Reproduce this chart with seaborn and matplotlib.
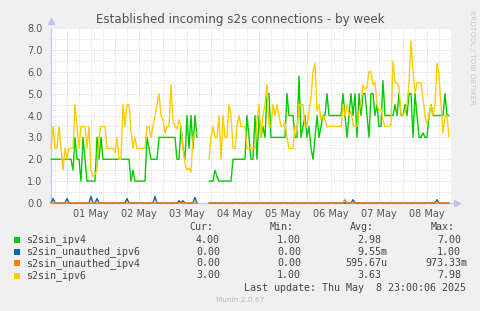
import numpy as np
import pandas as pd
import matplotlib
matplotlib.use("Agg")
import matplotlib.pyplot as plt
from matplotlib.patches import Rectangle
from matplotlib.ticker import FormatStrFormatter, MultipleLocator
import seaborn as sns

nan = np.nan
# hourly samples starting 30 Apr 16:00 (200 hours)
start_time = "2025-04-30 16:00"
n_hours = 200

s2sin_ipv4 = [
    2, 2, 2, 2, 2, 2, 2, 2, 2, 2, 2, 1.5, 3, 2, 2, 1, 3, 2, 1, 1,
    1, 1, 1, 3, 2, 3, 2, 2, 2, 2, 2, 2, 2, 2, 2, 2, 2, 2, 2, 2,
    1, 1.5, 1, 1, 1, 1, 1, 1, 3, 2.5, 2, 2, 2, 2, 3, 3, 3, 3, 3, 3,
    3, 3, 3, 2, 2, 3.5, 2.5, 2, 4, 2.5, 4, 2.5, 4, 3, nan, nan, nan, nan, nan, 1,
    1, 1, 1.5, 1.2, 1, 1, 1, 1, 1, 1, 1, 2, 2, 2, 2, 2, 2, 2, 4, 3,
    2, 2, 4, 2, 4, 3, 3.5, 3, 5, 5, 3, 3, 3, 3, 3, 3, 3, 3, 5, 4,
    4, 4, 3, 3, 5.8, 3, 3.5, 4, 3, 3.5, 2.5, 2, 3, 4, 3, 3.5, 4, 4, 5, 4,
    4, 4, 4, 4, 4, 4, 5, 4, 3, 4, 5, 4, 5, 3, 5, 4, 5, 5, 4, 3,
    5, 5, 4, 4.5, 3.5, 3.5, 5.6, 4, 4, 4, 4, 4, 4.5, 4, 5, 4, 4, 4.5, 4, 5,
    5, 3, 5, 4, 3, 3, 3.2, 3, 3, 4, 4.5, 4, 4, 4, 4, 4, 4, 5, 4, 4,
]

s2sin_unauthed_ipv6 = [
    0, 0.2, 0, 0, 0, 0, 0, 0, 0.2, 0, 0, 0, 0, 0, 0, 0, 0, 0, 0, 0,
    0.3, 0, 0, 0.2, 0, 0, 0, 0, 0, 0, 0, 0, 0, 0, 0, 0, 0, 0, 0.2, 0,
    0, 0, 0, 0, 0, 0, 0, 0, 0, 0, 0, 0, 0.3, 0, 0, 0, 0, 0, 0, 0,
    0, 0, 0, 0, 0.1, 0, 0.1, 0, 0, 0, 0, 0, 0.25, 0, nan, nan, nan, nan, nan, 0,
    0, 0, 0, 0, 0, 0, 0, 0, 0, 0, 0, 0, 0, 0, 0, 0, 0, 0, 0, 0,
    0, 0, 0, 0, 0, 0, 0, 0, 0, 0, 0, 0, 0, 0, 0, 0, 0, 0, 0, 0,
    0, 0, 0, 0, 0, 0, 0, 0, 0, 0, 0, 0, 0, 0, 0, 0, 0, 0, 0, 0,
    0, 0, 0, 0, 0, 0, 0, 0, 0, 0, 0, 0.15, 0, 0, 0, 0, 0, 0, 0, 0,
    0, 0, 0, 0, 0, 0, 0, 0, 0, 0, 0, 0, 0, 0, 0, 0, 0, 0, 0, 0,
    0, 0, 0, 0, 0, 0, 0, 0, 0, 0, 0, 0, 0, 0.15, 0, 0, 0, 0, 0, 0,
]

s2sin_unauthed_ipv4 = [
    0, 0, 0, 0, 0, 0, 0, 0, 0, 0, 0, 0, 0, 0, 0, 0, 0, 0, 0, 0,
    0, 0, 0, 0, 0, 0, 0, 0, 0, 0, 0, 0, 0, 0, 0, 0, 0, 0, 0, 0,
    0, 0, 0, 0, 0, 0, 0, 0, 0, 0, 0, 0, 0, 0, 0, 0, 0, 0, 0, 0,
    0, 0, 0, 0, 0, 0, 0, 0, 0, 0, 0, 0, 0, 0, nan, nan, nan, nan, nan, 0,
    0, 0, 0, 0, 0, 0, 0, 0, 0, 0, 0, 0, 0, 0, 0, 0, 0, 0, 0, 0,
    0, 0, 0, 0, 0, 0, 0, 0, 0, 0, 0, 0, 0, 0, 0, 0, 0, 0, 0, 0,
    0, 0, 0, 0, 0, 0, 0, 0, 0, 0, 0, 0, 0, 0, 0, 0, 0, 0, 0, 0,
    0, 0, 0, 0, 0, 0, 0, 0.15, 0, 0, 0, 0, 0, 0, 0, 0, 0, 0, 0, 0,
    0, 0, 0, 0, 0, 0, 0, 0, 0, 0, 0, 0, 0, 0, 0, 0, 0, 0, 0, 0,
    0, 0, 0, 0, 0, 0, 0, 0, 0, 0, 0, 0, 0, 0, 0, 0, 0, 0, 0, 0,
]

s2sin_ipv6 = [
    2.5, 3.5, 2.5, 2.5, 3.5, 2.5, 1.5, 2.5, 2.0, 2.5, 2.5, 2.5, 4.5, 3.5, 2.5, 3.5, 3.5, 3.5, 2.5, 3.5,
    1.5, 1.2, 1.3, 1.5, 3.0, 3.5, 3.5, 3.5, 2.5, 2.5, 2.5, 2.5, 2.3, 3.0, 2.0, 2.0, 4.5, 3.5, 4.5, 4.5,
    3.3, 2.5, 3.0, 2.5, 2.5, 2.5, 2.5, 2.5, 3.5, 3.5, 3.0, 3.5, 4.0, 4.5, 5.0, 4.0, 3.8, 3.2, 3.5, 3.5,
    5.4, 3.8, 3.5, 3.4, 3.8, 3.5, 2.5, 1.8, 1.5, 1.6, 1.4, 3.0, 3.2, 3.2, nan, nan, nan, nan, nan, 2.0,
    3.0, 3.5, 3.0, 3.0, 4.0, 2.0, 4.0, 3.0, 3.0, 4.5, 4.0, 2.5, 2.5, 3.5, 4.0, 3.5, 3.5, 3.5, 2.5, 2.5,
    2.5, 2.5, 2.5, 3.8, 4.5, 3.0, 4.0, 4.5, 5.4, 3.5, 3.5, 4.5, 4.0, 4.5, 4.0, 3.5, 3.5, 3.7, 3.0, 2.5,
    2.5, 2.5, 3.5, 3.3, 4.5, 4.5, 4.5, 3.5, 3.5, 4.2, 4.8, 6.0, 6.4, 4.2, 4.5, 3.8, 4.0, 3.8, 3.5, 3.5,
    3.5, 3.5, 3.5, 3.5, 3.5, 3.5, 4.5, 4.0, 4.5, 4.0, 4.2, 3.6, 3.5, 3.5, 4.2, 4.5, 5.4, 5.2, 5.3, 6.0,
    6.0, 5.4, 5.5, 4.5, 4.2, 4.3, 3.8, 3.5, 3.5, 3.5, 3.6, 6.5, 5.5, 5.5, 5.3, 4.0, 4.0, 4.2, 4.5, 5.5,
    7.4, 6.0, 5.0, 5.5, 5.5, 5.5, 4.8, 4.0, 3.6, 4.0, 4.5, 4.0, 4.5, 6.4, 5.8, 4.5, 3.2, 4.0, 4.0, 3.0,
]

series_names = ["s2sin_ipv4", "s2sin_unauthed_ipv6", "s2sin_unauthed_ipv4", "s2sin_ipv6"]
series_values = [s2sin_ipv4, s2sin_unauthed_ipv6, s2sin_unauthed_ipv4, s2sin_ipv6]
series_colors = ["#00CC00", "#0066B3", "#FF8000", "#FFCC00"]
legend_cur = ["4.00", "0.00", "0.00", "3.00"]
legend_min = ["1.00", "0.00", "0.00", "1.00"]
legend_avg = ["2.98", "9.55m", "595.67u", "3.63"]
legend_max = ["7.00", "1.00", "973.33m", "7.98"]
day_labels = ["01 May", "02 May", "03 May", "04 May", "05 May", "06 May", "07 May", "08 May"]
title = "Established incoming s2s connections - by week"
last_update = "Last update: Thu May  8 23:00:06 2025"

times = pd.date_range(start_time, periods=n_hours, freq="h")

sns.set_style("white")
plt.rcParams["font.family"] = ["DejaVu Sans"]

W, H = 481, 311
fig = plt.figure(figsize=(W / 100, H / 100), dpi=100, facecolor="#F0F0F0")
ax = fig.add_axes([51 / W, 1 - 203 / H, 400 / W, 175 / H])
ax.set_facecolor("white")

t0 = times[0]
t1 = t0 + pd.Timedelta(hours=n_hours)
ax.set_xlim(t0, t1)
ax.set_ylim(0, 8.0)

# grid
grey = "#CCCCCC"
red = "#E6B4B4"
dots = (0, (1, 2))
for y in np.arange(0.5, 8.0, 1.0):
    ax.axhline(y, color=grey, lw=0.6, ls=dots, zorder=0)
for y in np.arange(1.0, 8.01, 1.0):
    ax.axhline(y, color=red, lw=0.6, ls=dots, zorder=0)
tick = pd.Timestamp("2025-04-30 18:00")
while tick < t1:
    col = red if tick.hour == 0 else grey
    ax.axvline(tick, color=col, lw=0.6, ls=dots, zorder=0)
    tick += pd.Timedelta(hours=6)

# axis lines with arrows
ax.plot([0, 1.01], [0, 0], color="#C4CCF2", lw=1.0, transform=ax.transAxes, clip_on=False, zorder=1)
ax.plot([1.015], [0], marker=">", color="#B8C2F0", ms=4, transform=ax.transAxes, clip_on=False)
ax.plot([0], [1.04], marker="^", color="#B8C2F0", ms=4, transform=ax.transAxes, clip_on=False)

for z, (name, vals, color) in enumerate(zip(series_names, series_values, series_colors)):
    d = pd.DataFrame({"time": times, "value": vals})
    d["seg"] = d["value"].isna().cumsum()
    d = d.dropna()
    for _, part in d.groupby("seg"):
        sns.lineplot(data=part, x="time", y="value", estimator=None, color=color,
                     lw=1.0, ax=ax, legend=False, zorder=3 + z, clip_on=False, snap=False)

ax.set_xlabel("")
ax.set_ylabel("")
noon = pd.date_range("2025-05-01 12:00", periods=len(day_labels), freq="D")
ax.set_xticks(noon)
ax.set_xticklabels(day_labels)
ax.yaxis.set_major_locator(MultipleLocator(1.0))
ax.yaxis.set_major_formatter(FormatStrFormatter("%.1f"))
ax.tick_params(axis="both", length=0, labelsize=7, labelcolor="#555555")
ax.tick_params(axis="y", pad=6)
ax.tick_params(axis="x", pad=4)

for s in ["top", "right", "bottom"]:
    ax.spines[s].set_visible(False)
ax.spines["left"].set_color("#C4CCF2")
ax.spines["left"].set_linewidth(1.0)


def fx(x):
    return x / W


def fy(y):
    return 1 - y / H


fig.text(fx(240), fy(19), title, ha="center", va="center", fontsize=8.6, color="#505050")
fig.text(fx(472), fy(57), "RRDTOOL / TOBI OETIKER", rotation=270, ha="center", va="center",
         fontsize=5.3, color="#C8C8C8")

mono = "DejaVu Sans Mono"
lc = "#444444"
fs = 7.2
hy = 227
for lab, r in zip(["Cur:", "Min:", "Avg:", "Max:"], [213, 294, 374, 455]):
    fig.text(fx(r), fy(hy), lab, ha="right", va="center", family=mono, fontsize=fs, color=lc)

rows_y = [240, 251.7, 263.3, 275.5]
for i, (name, color) in enumerate(zip(series_names, series_colors)):
    y = rows_y[i]
    fig.add_artist(Rectangle((fx(14), fy(y + 3)), 6 / W, 6 / H, transform=fig.transFigure,
                             facecolor=color, edgecolor="none"))
    fig.text(fx(26.5), fy(y), name, ha="left", va="center", family=mono, fontsize=fs, color=lc)
    for val, r in zip([legend_cur[i], legend_min[i], legend_avg[i], legend_max[i]], [220, 301, 381, 461]):
        rr = r + 6 if val[-1] in "mu" else r
        fig.text(fx(rr), fy(y), val, ha="right", va="center", family=mono, fontsize=fs, color=lc)

fig.text(fx(466), fy(287.7), last_update, ha="right", va="center", family=mono, fontsize=fs, color=lc)
fig.text(fx(240), fy(300), "Munin 2.0.67", ha="center", va="center", fontsize=5.3, color="#BBBBBB")

fig.savefig("out.png", dpi=100, facecolor=fig.get_facecolor())
